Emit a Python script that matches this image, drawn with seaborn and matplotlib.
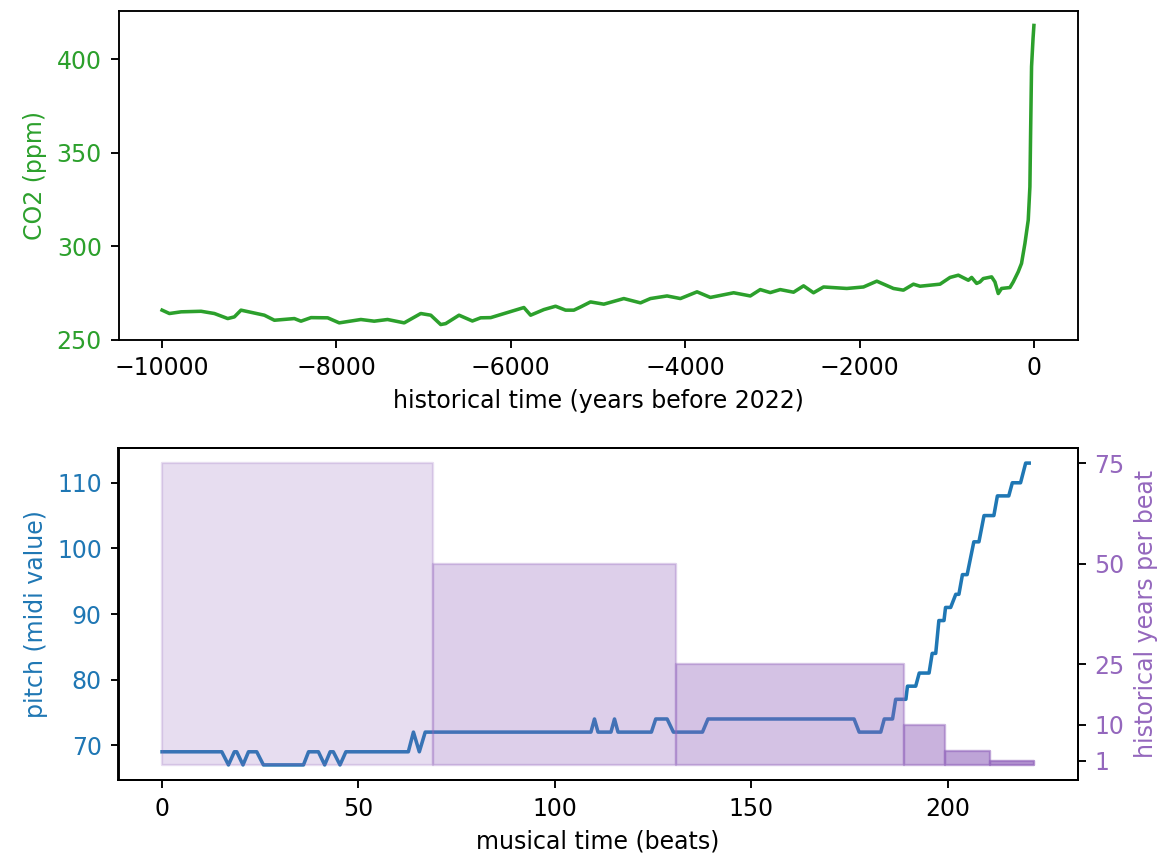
import numpy as np
import matplotlib
matplotlib.use("Agg")
import matplotlib.pyplot as plt
import seaborn as sns

# ---------------- data ----------------
co2_years = [-10000, -9916, -9782, -9553, -9400, -9247, -9171, -9095, -8827, -8712,
             -8483, -8407, -8292, -8101, -7968, -7720, -7567, -7414, -7223, -7033,
             -6918, -6804, -6747, -6594, -6441, -6346, -6231, -5850, -5773, -5621,
             -5487, -5372, -5277, -5200, -5086, -4933, -4704, -4513, -4399, -4208,
             -4055, -3864, -3711, -3444, -3253, -3139, -3024, -2910, -2757, -2642,
             -2528, -2413, -2146, -1955, -1802, -1611, -1497, -1382, -1306, -1077,
             -962, -867, -752, -714, -657, -619, -581, -485, -447, -409,
             -371, -275, -237, -180, -142, -103, -65, -46, -38, -27, -10, 0]
co2_ppm = [265.7, 263.9, 264.8, 265.1, 263.9, 261.2, 262.1, 265.7, 263.0, 260.3,
           261.2, 259.8, 261.7, 261.6, 258.9, 260.7, 259.8, 260.7, 258.9, 263.9,
           263.0, 258.0, 258.5, 263.0, 259.9, 261.6, 261.7, 267.1, 263.0, 266.0,
           267.8, 265.7, 265.7, 267.4, 270.1, 268.9, 271.9, 269.6, 271.9, 273.3,
           271.9, 275.5, 272.5, 275.0, 273.3, 276.7, 275.1, 276.7, 275.3, 278.7,
           275.0, 278.1, 277.3, 278.1, 281.2, 277.3, 276.4, 279.6, 278.5, 279.6,
           283.2, 284.4, 281.7, 283.2, 280.0, 280.8, 282.6, 283.5, 280.8, 274.6,
           277.3, 277.8, 280.8, 286.2, 290.7, 301.4, 313.9, 331.7, 360.0, 396.0, 411.0, 418.0]

pitch_beats = [0, 15.2, 16.9, 18.4, 19.0, 20.6, 22.0, 24.1, 25.8, 36.0,
               37.3, 39.8, 41.4, 42.8, 43.6, 45.3, 46.8, 62.7, 64.0, 65.5,
               67.0, 109.2, 110.1, 111.0, 114.3, 115.2, 116.1, 124.6, 125.7, 128.6,
               130.2, 137.6, 139.0, 176.2, 177.5, 183.0, 183.9, 186.0, 186.8, 189.4,
               189.8, 191.9, 192.8, 195.3, 196.1, 197.0, 197.8, 199.1, 199.5, 200.8,
               202.1, 202.9, 203.8, 205.0, 206.7, 208.0, 209.3, 211.8, 212.7, 215.6,
               216.5, 218.6, 219.9, 220.8]
pitch_midi = [69, 69, 67, 69, 69, 67, 69, 69, 67, 67,
              69, 69, 67, 69, 69, 67, 69, 69, 72, 69,
              72, 72, 74, 72, 72, 74, 72, 72, 74, 74,
              72, 72, 74, 74, 72, 72, 74, 74, 77, 77,
              79, 79, 81, 81, 84, 84, 89, 89, 91, 91,
              93, 93, 96, 96, 101, 101, 105, 105, 108, 108,
              110, 110, 113, 113]

seg_edges = [0, 68.9, 130.9, 188.9, 199.3, 210.7, 222.0]
years_per_beat = [75, 50, 25, 10, 3.5, 1]
seg_alpha = [0.22, 0.31, 0.40, 0.50, 0.60, 0.70]
right_ticks = [1, 10, 25, 50, 75]

# ---------------- figure ----------------
DPI = 170
plt.rcParams['font.size'] = 10
fig = plt.figure(figsize=(1168 / DPI, 861 / DPI), dpi=DPI)
W, H = 1168, 861
ax_top = fig.add_axes([118.5 / W, 1 - 339.5 / H, (1077.5 - 118.5) / W, (339.5 - 10.5) / H])
ax_bot = fig.add_axes([118.5 / W, 1 - 780 / H, (1077.5 - 118.5) / W, (780 - 448) / H])

green = 'tab:green'
blue = 'tab:blue'
purple = 'tab:purple'

sns.lineplot(x=co2_years, y=co2_ppm, ax=ax_top, color=green, linewidth=1.5, sort=False)
ax_top.set_xlabel('historical time (years before 2022)')
ax_top.set_ylabel('CO2 (ppm)', color=green)
ax_top.tick_params(axis='y', labelcolor=green)
ax_top.set_yticks([250, 300, 350, 400])

sns.lineplot(x=pitch_beats, y=pitch_midi, ax=ax_bot, color=blue, linewidth=1.5, sort=False)
ax_bot.set_xlabel('musical time (beats)')
ax_bot.set_ylabel('pitch (midi value)', color=blue)
ax_bot.tick_params(axis='y', labelcolor=blue)
ax_bot.set_yticks([70, 80, 90, 100, 110])

ax2 = ax_bot.twinx()
for i in range(len(years_per_beat)):
    ax2.fill_between([seg_edges[i], seg_edges[i + 1]], [0, 0],
                     [years_per_beat[i]] * 2, color=purple, alpha=seg_alpha[i],
                     linewidth=1)
top = max(years_per_beat)
ax2.set_ylim(-0.05 * top, 1.05 * top)
ax2.set_yticks(right_ticks)
ax2.set_ylabel('historical years per beat', color=purple)
ax2.tick_params(axis='y', labelcolor=purple)
ax_bot.set_xticks([0, 50, 100, 150, 200])

fig.savefig('out.png', dpi=DPI)
